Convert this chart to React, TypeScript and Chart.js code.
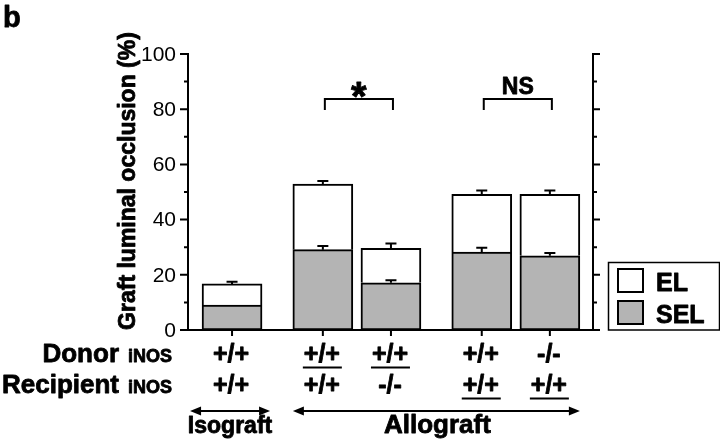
import React, { useEffect, useRef } from 'react';
import { Chart, registerables } from 'chart.js';

Chart.register(...registerables);

// ---- data ----
const categories = ['Isograft', 'Allograft 1', 'Allograft 2', 'Allograft 3', 'Allograft 4'];
const xPositions = [0, 4, 7, 11, 14];
const selValues = [9.0, 29.1, 17.1, 28.2, 26.9];
const elValues = [7.7, 23.8, 12.5, 21.0, 22.3];
const selErrors = [0, 1.3, 0.9, 1.6, 1.0];
const totalErrors = [0.8, 1.1, 1.7, 1.3, 1.3];
const donorLabels = ['+/+', '+/+', '+/+', '+/+', '-/-'];
const recipientLabels = ['+/+', '+/+', '-/-', '+/+', '+/+'];
const donorUnderline = [false, true, true, false, false];
const recipientUnderline = [false, false, false, true, true];
const yMajorTicks = [0, 20, 40, 60, 80, 100];
const yMinorTicks = [10, 30, 50, 70, 90];
const legendLabels = ['EL', 'SEL'];

const FONT = '"Liberation Sans", Arial, Helvetica, sans-serif';
const GRAY = '#b4b4b4';

function arrowHead(ctx: CanvasRenderingContext2D, x: number, y: number, dir: number) {
  ctx.beginPath();
  ctx.moveTo(x, y);
  ctx.lineTo(x - dir * 11, y - 4.5);
  ctx.lineTo(x - dir * 11, y + 4.5);
  ctx.closePath();
  ctx.fill();
}

function heavyText(ctx: CanvasRenderingContext2D, s: string, x: number, y: number) {
  ctx.save();
  ctx.lineWidth = 0.8;
  ctx.lineJoin = 'round';
  ctx.fillText(s, x, y);
  ctx.strokeText(s, x, y);
  ctx.restore();
}

const overlayPlugin = {
  id: 'overlay',
  afterDatasetsDraw(chart: any) {
    const ctx: CanvasRenderingContext2D = chart.ctx;
    const xs = chart.scales.x;
    const ys = chart.scales.y;
    const area = chart.chartArea;
    ctx.save();
    ctx.strokeStyle = '#000';
    ctx.fillStyle = '#000';
    ctx.lineWidth = 2;
    ctx.lineCap = 'butt';

    // error bars
    const metaSel = chart.getDatasetMeta(0);
    const metaEl = chart.getDatasetMeta(1);
    const drawErr = (px: number, val: number, err: number) => {
      if (!err) return;
      const y0 = ys.getPixelForValue(val);
      const y1 = ys.getPixelForValue(val + err);
      ctx.beginPath();
      ctx.moveTo(px, y0);
      ctx.lineTo(px, y1);
      ctx.moveTo(px - 5.5, y1);
      ctx.lineTo(px + 5.5, y1);
      ctx.stroke();
    };
    categories.forEach((_, i) => {
      drawErr(metaSel.data[i].x, selValues[i], selErrors[i]);
      drawErr(metaEl.data[i].x, selValues[i] + elValues[i], totalErrors[i]);
    });

    // axes
    const left = area.left, right = area.right, top = area.top, bottom = area.bottom;
    ctx.beginPath();
    ctx.moveTo(left, top - 1);
    ctx.lineTo(left, bottom);
    ctx.moveTo(right, top - 1);
    ctx.lineTo(right, bottom + 1);
    ctx.moveTo(left - 8, bottom);
    ctx.lineTo(right, bottom);
    yMajorTicks.forEach((v) => {
      const py = ys.getPixelForValue(v);
      ctx.moveTo(left - 8, py);
      ctx.lineTo(left, py);
      ctx.moveTo(right, py);
      ctx.lineTo(right + 7, py);
    });
    yMinorTicks.forEach((v) => {
      const py = ys.getPixelForValue(v);
      ctx.moveTo(left - 4, py);
      ctx.lineTo(left, py);
      ctx.moveTo(right, py);
      ctx.lineTo(right + 4, py);
    });
    xPositions.forEach((p) => {
      const px = xs.getPixelForValue(p);
      ctx.moveTo(px, bottom);
      ctx.lineTo(px, bottom + 6);
    });
    ctx.stroke();

    // y tick labels
    ctx.font = `21px ${FONT}`;
    ctx.textAlign = 'right';
    ctx.textBaseline = 'middle';
    yMajorTicks.forEach((v) => {
      ctx.fillText(String(v), left - 12, ys.getPixelForValue(v) + 1);
    });

    // y title
    ctx.save();
    ctx.translate(129, 181);
    ctx.rotate(-Math.PI / 2);
    ctx.font = `bold 23px ${FONT}`;
    ctx.textAlign = 'center';
    ctx.textBaseline = 'middle';
    heavyText(ctx, 'Graft luminal occlusion (%)', 0, 0);
    ctx.restore();

    // panel letter
    ctx.font = `bold 29px ${FONT}`;
    ctx.textAlign = 'left';
    ctx.textBaseline = 'alphabetic';
    heavyText(ctx, 'b', 3, 27);

    // row labels
    const rowLabel = (main: string, yb: number) => {
      ctx.textAlign = 'right';
      ctx.font = `bold 18px ${FONT}`;
      heavyText(ctx, 'iNOS', 172, yb);
      const w = ctx.measureText('iNOS').width;
      ctx.font = `bold 26px ${FONT}`;
      heavyText(ctx, main, 172 - w - 9, yb);
    };
    rowLabel('Donor', 362);
    rowLabel('Recipient', 393);

    // genotype labels
    ctx.font = `bold 25px ${FONT}`;
    ctx.textAlign = 'center';
    xPositions.forEach((p, i) => {
      const px = xs.getPixelForValue(p);
      heavyText(ctx, donorLabels[i], px - 1, 362);
      heavyText(ctx, recipientLabels[i], px - 1, 393);
      ctx.beginPath();
      if (donorUnderline[i]) {
        ctx.moveTo(px - 20, 367.5);
        ctx.lineTo(px + 19, 367.5);
      }
      if (recipientUnderline[i]) {
        ctx.moveTo(px - 20, 398.5);
        ctx.lineTo(px + 19, 398.5);
      }
      ctx.stroke();
    });

    // group arrows
    const ay = 411;
    const iso = xs.getPixelForValue(xPositions[0]);
    const a1 = xs.getPixelForValue(xPositions[1]);
    const a4 = xs.getPixelForValue(xPositions[4]);
    const segs: [number, number][] = [
      [iso - 42, iso + 38],
      [a1 - 30, a4 + 30],
    ];
    segs.forEach(([x0, x1]) => {
      ctx.beginPath();
      ctx.moveTo(x0 + 6, ay);
      ctx.lineTo(x1 - 6, ay);
      ctx.stroke();
      arrowHead(ctx, x0, ay, -1);
      arrowHead(ctx, x1, ay, 1);
    });
    ctx.textAlign = 'center';
    ctx.font = `bold 23px ${FONT}`;
    heavyText(ctx, 'Isograft', iso - 2, 433);
    ctx.font = `bold 26px ${FONT}`;
    heavyText(ctx, 'Allograft', (a1 - 30 + a4 + 30) / 2 + 1, 433);

    // significance brackets
    const bracket = (p0: number, p1: number, label: string, big: boolean) => {
      const x0 = xs.getPixelForValue(p0) + 2;
      const x1 = xs.getPixelForValue(p1) + 2;
      const by = 99;
      ctx.beginPath();
      ctx.moveTo(x0, 110);
      ctx.lineTo(x0, by);
      ctx.lineTo(x1, by);
      ctx.lineTo(x1, 110);
      ctx.stroke();
      ctx.textAlign = 'center';
      if (big) {
        ctx.font = `bold 40px ${FONT}`;
        heavyText(ctx, label, (x0 + x1) / 2, 110);
      } else {
        ctx.font = `bold 23px ${FONT}`;
        heavyText(ctx, label, (x0 + x1) / 2, 94);
      }
    };
    bracket(xPositions[1], xPositions[2], '*', true);
    bracket(xPositions[3], xPositions[4], 'NS', false);

    // legend
    ctx.lineWidth = 1.5;
    ctx.strokeRect(608.5, 262.5, 111, 67.5);
    ctx.lineWidth = 2;
    const fills = ['#ffffff', GRAY];
    const rowsY = [269, 301];
    legendLabels.forEach((lab, i) => {
      ctx.fillStyle = fills[i];
      ctx.fillRect(618, rowsY[i], 25, 23);
      ctx.strokeRect(618, rowsY[i], 25, 23);
      ctx.fillStyle = '#000';
      ctx.font = `bold 25px ${FONT}`;
      ctx.textAlign = 'left';
      heavyText(ctx, lab, 656, rowsY[i] + 22);
    });

    ctx.restore();
  },
};

export default function App() {
  const canvasRef = useRef<HTMLCanvasElement | null>(null);

  useEffect(() => {
    if (!canvasRef.current) return;
    const chart = new Chart(canvasRef.current, {
      type: 'bar',
      data: {
        labels: categories,
        datasets: [
          {
            label: 'SEL',
            data: xPositions.map((x, i) => ({ x, y: selValues[i] })),
            backgroundColor: GRAY,
            borderColor: '#000',
            borderWidth: 2,
            borderSkipped: false,
            barThickness: 60,
          },
          {
            label: 'EL',
            data: xPositions.map((x, i) => ({ x, y: elValues[i] })),
            backgroundColor: '#ffffff',
            borderColor: '#000',
            borderWidth: 2,
            borderSkipped: 'bottom',
            barThickness: 60,
          },
        ],
      },
      options: {
        responsive: false,
        animation: false,
        layout: { padding: { left: 188, right: 127, top: 54, bottom: 113 } },
        plugins: { legend: { display: false }, tooltip: { enabled: false } },
        scales: {
          x: { type: 'linear', display: false, offset: false, stacked: true, min: -1.94, max: 15.9 },
          y: { display: false, stacked: true, min: 0, max: 100 },
        },
      },
      plugins: [overlayPlugin],
    } as any);
    return () => chart.destroy();
  }, []);

  return (
    <div style={{ position: 'fixed', left: 0, top: 0, width: 720, height: 443, background: '#fff' }}>
      <canvas ref={canvasRef} width={720} height={443} />
    </div>
  );
}
